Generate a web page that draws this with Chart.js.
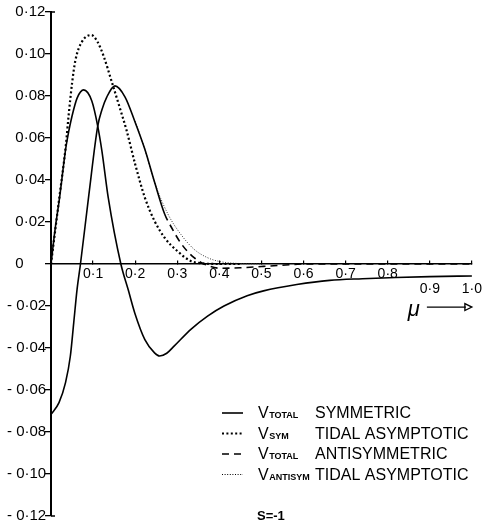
<!DOCTYPE html>
<html>
<head>
<meta charset="utf-8">
<script src="https://cdn.jsdelivr.net/npm/chart.js@4.4.1/dist/chart.umd.min.js"></script>
<style>
  html, body { margin: 0; padding: 0; background: #fff; }
</style>
</head>
<body>
<canvas id="potentialChart" width="488" height="528"></canvas>
<script>
// V_total, symmetric (solid)
const muSymTotal = [0, 0.01, 0.02, 0.035, 0.042, 0.05, 0.062, 0.0776, 0.097, 0.111, 0.121, 0.136, 0.166, 0.1835, 0.199, 0.223, 0.246, 0.258, 0.275, 0.293, 0.333, 0.372, 0.411, 0.466, 0.505, 0.584, 0.662, 0.74, 0.819, 0.9, 1.0];
const vSymTotal = [0, 0.017, 0.031, 0.055, 0.063, 0.0705, 0.079, 0.0829, 0.0776, 0.0657, 0.0538, 0.0316, 0, -0.0123, -0.0233, -0.036, -0.0423, -0.0438, -0.0425, -0.039, -0.031, -0.0248, -0.020, -0.0151, -0.0128, -0.0098, -0.0078, -0.007, -0.0064, -0.006, -0.0057];

// V_sym, tidal asymptotic (heavy dots)
const muSymTidal = [0, 0.02, 0.035, 0.042, 0.05, 0.058, 0.074, 0.096, 0.11, 0.125, 0.144, 0.164, 0.18, 0.2, 0.223, 0.246, 0.27, 0.3, 0.332, 0.36, 0.4, 0.45];
const vSymTidal = [0, 0.032, 0.056, 0.071, 0.086, 0.097, 0.106, 0.109, 0.106, 0.099, 0.087, 0.074, 0.0633, 0.0475, 0.0316, 0.0205, 0.0125, 0.0062, 0.0014, 0.0003, 0, 0];

// V_total, antisymmetric (solid, dashed in the tail)
const muAntiTotal = [0, 0.019, 0.0345, 0.046, 0.054, 0.062, 0.07, 0.09, 0.111, 0.121, 0.1325, 0.152, 0.176, 0.199, 0.223, 0.246, 0.27, 0.286, 0.31, 0.34, 0.364, 0.4, 0.45, 0.5, 0.55, 0.6, 0.8, 1.0];
const vAntiTotal = [-0.0716, -0.066, -0.0565, -0.0438, -0.028, -0.012, 0, 0.033, 0.0657, 0.0735, 0.0795, 0.0848, 0.0795, 0.068, 0.0546, 0.039, 0.0238, 0.0175, 0.0095, 0.003, 0, -0.002, -0.0018, -0.0012, -0.0006, 0, 0, 0];

// V_antisym, tidal asymptotic (fine dots)
const muAntiTidal = [0.2, 0.223, 0.246, 0.278, 0.309, 0.34, 0.372, 0.403, 0.45, 0.5];
const vAntiTidal = [0.068, 0.0546, 0.039, 0.0237, 0.014, 0.007, 0.003, 0.0011, 0.0002, 0];

// legend labels
const legendSubs = ["TOTAL", "SYM", "TOTAL", "ANTISYM"];
const legendTexts = ["SYMMETRIC", "TIDAL ASYMPTOTIC", "ANTISYMMETRIC", "TIDAL ASYMPTOTIC"];
const parameterLabel = "S=-1";
const axisName = "\u03BC";

const INK = "#000";
const FONT = "'Liberation Sans', Arial, sans-serif";

const toPoints = (xs, ys) => xs.map((x, i) => ({ x: x, y: ys[i] }));

const lineBase = {
  pointRadius: 0,
  borderColor: INK,
  fill: false,
  cubicInterpolationMode: "monotone",
  spanGaps: true
};

// legend, mu arrow and parameter text
const annotations = {
  id: "annotations",
  afterDraw(chart) {
    const ctx = chart.ctx;
    const area = chart.chartArea;
    const xs = chart.scales.x;
    const ys = chart.scales.y;
    ctx.save();
    ctx.fillStyle = INK;
    ctx.strokeStyle = INK;

    // small end ticks of the y axis
    ctx.lineWidth = 1.5;
    ctx.beginPath();
    ctx.moveTo(area.left, area.top); ctx.lineTo(area.left + 4, area.top);
    ctx.moveTo(area.left, area.bottom); ctx.lineTo(area.left + 4, area.bottom);
    ctx.stroke();

    // legend
    const ds = chart.data.datasets;
    const sampleX0 = 222, sampleX1 = 243, textX = 258;
    for (let i = 0; i < legendTexts.length; i++) {
      const base = 418 + i * 20.5;
      const d = ds[i];
      ctx.save();
      ctx.lineWidth = d.borderWidth;
      ctx.setLineDash(i === 2 ? [7, 5] : (d.borderDash || []));
      ctx.beginPath();
      ctx.moveTo(sampleX0, base - 5);
      ctx.lineTo(sampleX1, base - 5);
      ctx.stroke();
      ctx.restore();

      ctx.textBaseline = "alphabetic";
      ctx.textAlign = "left";
      ctx.font = "16px " + FONT;
      ctx.fillText("V", textX, base);
      let x = textX + ctx.measureText("V").width + 0.5;
      ctx.font = "bold 9px " + FONT;
      ctx.fillText(legendSubs[i], x, base);
      x += ctx.measureText(legendSubs[i]).width;
      ctx.font = "16px " + FONT;
      ctx.fillText(legendTexts[i], Math.max(315, x + 5), base);
    }

    ctx.font = "bold 13px " + FONT;
    ctx.fillText(parameterLabel, 257, 520);

    // mu with arrow
    const ax1 = xs.getPixelForValue(1.0);
    const ay = ys.getPixelForValue(-0.0205);
    ctx.font = "italic 22px " + FONT;
    ctx.textAlign = "right";
    ctx.fillText(axisName, ax1 - 52, ay + 9);
    ctx.lineWidth = 1.3;
    ctx.beginPath();
    ctx.moveTo(ax1 - 45, ay);
    ctx.lineTo(ax1 - 6, ay);
    ctx.stroke();
    ctx.beginPath();
    ctx.moveTo(ax1 - 7, ay - 3.5);
    ctx.lineTo(ax1, ay);
    ctx.lineTo(ax1 - 7, ay + 3.5);
    ctx.closePath();
    ctx.stroke();

    ctx.restore();
  }
};

new Chart(document.getElementById("potentialChart"), {
  type: "line",
  data: {
    datasets: [
      {
        ...lineBase,
        label: "V total symmetric",
        data: toPoints(muSymTotal, vSymTotal),
        borderWidth: 1.6
      },
      {
        ...lineBase,
        label: "V sym tidal asymptotic",
        data: toPoints(muSymTidal, vSymTidal),
        borderWidth: 2.2,
        borderDash: [2, 2.4]
      },
      {
        ...lineBase,
        label: "V total antisymmetric",
        data: toPoints(muAntiTotal, vAntiTotal),
        borderWidth: 1.6,
        segment: {
          borderDash: (c) => (c.p0.parsed.x >= 0.27 ? [7, 5] : undefined)
        }
      },
      {
        ...lineBase,
        label: "V antisym tidal asymptotic",
        data: toPoints(muAntiTidal, vAntiTidal),
        borderWidth: 1,
        borderColor: "#333",
        borderDash: [1, 1.6]
      }
    ]
  },
  options: {
    responsive: false,
    animation: false,
    layout: { padding: { left: 7, right: 10, top: 12, bottom: 11 } },
    plugins: {
      legend: { display: false },
      tooltip: { enabled: false }
    },
    scales: {
      x: {
        type: "linear",
        position: { y: 0 },
        min: 0,
        max: 1,
        border: { display: true, color: INK, width: 1.6 },
        grid: { drawOnChartArea: false, drawTicks: true, tickLength: -4, color: INK, lineWidth: 1.2 },
        ticks: {
          stepSize: 0.1,
          autoSkip: false,
          maxRotation: 0,
          padding: 6,
          color: INK,
          font: { family: FONT, size: 14, lineHeight: 1.1 },
          callback: (v) => {
            const n = Math.round(v * 10);
            if (n === 0) return "";
            const s = n === 10 ? "1\u00B70" : "0\u00B7" + n;
            return n >= 9 ? ["", s] : s;
          }
        }
      },
      y: {
        type: "linear",
        position: "left",
        min: -0.12,
        max: 0.12,
        afterFit: (scale) => { scale.width = 44; },
        border: { display: true, color: INK, width: 2 },
        grid: { drawOnChartArea: false, drawTicks: true, tickLength: 6, color: INK, lineWidth: 1.3 },
        ticks: {
          stepSize: 0.02,
          crossAlign: "far",
          color: INK,
          font: { family: FONT, size: 15 },
          callback: (v) => {
            const n = Math.round(v * 100);
            if (n === 0) return "  0";
            const s = "0\u00B7" + String(Math.abs(n)).padStart(2, "0");
            return n < 0 ? "- " + s : "  " + s;
          }
        }
      }
    }
  },
  plugins: [annotations]
});
</script>
</body>
</html>
